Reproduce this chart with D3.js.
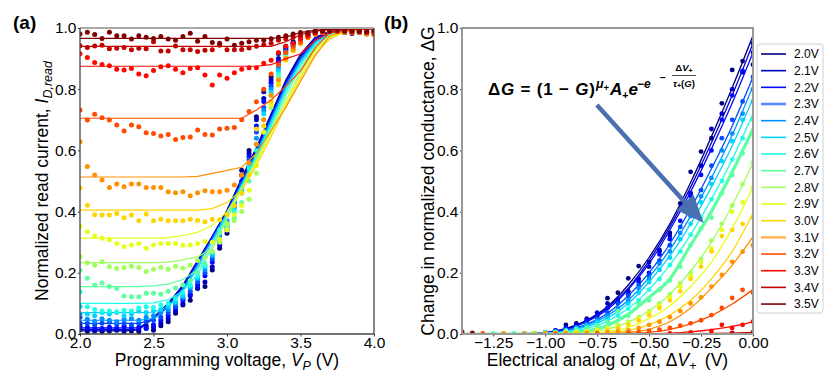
<!DOCTYPE html>
<html><head><meta charset="utf-8">
<script src="https://cdn.jsdelivr.net/npm/d3@7"></script>
<style>
body{margin:0;background:#fff}
text{font-family:"Liberation Sans",Arial,sans-serif;fill:#000}
</style>
</head><body>
<svg id="c" width="830" height="375"></svg>
<script>
// ---------- series ----------
const seriesLabels = ["2.0V","2.1V","2.2V","2.3V","2.4V","2.5V","2.6V","2.7V","2.8V","2.9V","3.0V","3.1V","3.2V","3.3V","3.4V","3.5V"];
const seriesColors = ["#000080","#0000c4","#0008ff","#004cff","#0090ff","#00d4ff","#1affe6","#5dffa1","#a1ff5d","#e6ff1a","#ffd400","#ff9000","#ff4c00","#ff0800","#c40000","#800000"];

// ---------- panel (a) ----------
const aTicksX = [2.0,2.5,3.0,3.5,4.0];
const aTicksY = [0.0,0.2,0.4,0.6,0.8,1.0];
const aDotX = [2.00,2.05,2.10,2.15,2.20,2.25,2.30,2.35,2.40,2.45,2.50,2.55,2.60,2.65,2.70,2.75,2.80,2.85,2.90,2.95,3.00,3.05,3.10,3.15,3.20,3.25,3.30,3.35,3.40,3.45,3.50,3.55,3.60,3.65,3.70,3.75,3.80,3.85,3.90,3.95,4.00];
const aDots = [
 [0.015,0.008,0.010,0.008,0.010,0.012,0.008,0.010,0.008,0.027,0.012,0.027,0.040,0.068,0.095,0.110,0.149,0.155,0.209,0.280,0.329,0.416,0.535,0.600,0.710,0.792,0.841,0.917,0.940,0.955,0.970,0.980,0.985,0.988,0.985,0.990,0.985,0.982,0.985,0.980,0.984],
 [0.025,0.015,0.012,0.015,0.018,0.015,0.012,0.016,0.014,0.018,0.022,0.035,0.050,0.075,0.100,0.125,0.150,0.170,0.220,0.290,0.340,0.420,0.520,0.590,0.700,0.770,0.830,0.900,0.935,0.950,0.965,0.975,0.985,0.990,0.988,0.990,0.985,0.990,0.988,0.985,0.990],
 [0.035,0.022,0.020,0.018,0.022,0.020,0.025,0.020,0.022,0.020,0.030,0.045,0.060,0.085,0.110,0.130,0.160,0.190,0.235,0.300,0.350,0.420,0.500,0.580,0.680,0.760,0.820,0.890,0.930,0.950,0.965,0.978,0.985,0.990,0.990,0.988,0.990,0.990,0.985,0.990,0.988],
 [0.055,0.035,0.030,0.035,0.038,0.032,0.035,0.030,0.035,0.040,0.045,0.055,0.070,0.090,0.115,0.140,0.170,0.200,0.245,0.310,0.360,0.430,0.490,0.570,0.660,0.740,0.810,0.880,0.925,0.945,0.960,0.975,0.985,0.990,0.988,0.990,0.990,0.988,0.990,0.985,0.990],
 [0.065,0.048,0.042,0.050,0.045,0.040,0.048,0.050,0.045,0.055,0.060,0.070,0.080,0.100,0.120,0.150,0.180,0.210,0.255,0.320,0.370,0.420,0.480,0.560,0.640,0.730,0.800,0.870,0.920,0.945,0.960,0.975,0.985,0.990,0.990,0.988,0.990,0.990,0.988,0.990,0.990],
 [0.090,0.065,0.060,0.070,0.065,0.070,0.060,0.065,0.075,0.070,0.075,0.080,0.090,0.105,0.125,0.155,0.185,0.220,0.260,0.330,0.360,0.410,0.470,0.550,0.620,0.720,0.790,0.860,0.915,0.940,0.960,0.975,0.985,0.990,0.990,0.990,0.988,0.990,0.990,0.988,0.990],
 [0.138,0.089,0.080,0.075,0.075,0.073,0.078,0.075,0.085,0.089,0.087,0.095,0.100,0.115,0.135,0.160,0.190,0.225,0.270,0.340,0.360,0.400,0.460,0.540,0.600,0.700,0.780,0.850,0.910,0.940,0.955,0.970,0.985,0.990,0.990,0.990,0.990,0.988,0.990,0.990,0.990],
 [0.208,0.182,0.160,0.167,0.155,0.149,0.124,0.122,0.122,0.133,0.133,0.130,0.140,0.150,0.160,0.175,0.200,0.230,0.270,0.330,0.350,0.380,0.430,0.500,0.580,0.680,0.760,0.840,0.905,0.935,0.955,0.970,0.982,0.988,0.990,0.990,0.990,0.990,0.988,0.990,0.990],
 [0.253,0.233,0.225,0.236,0.220,0.214,0.217,0.221,0.217,0.204,0.212,0.217,0.212,0.221,0.215,0.225,0.240,0.250,0.270,0.300,0.360,0.370,0.400,0.440,0.525,0.660,0.740,0.830,0.900,0.930,0.950,0.970,0.980,0.988,0.990,0.990,0.990,0.990,0.990,0.988,0.990],
 [0.351,0.334,0.320,0.313,0.308,0.296,0.285,0.291,0.296,0.280,0.291,0.296,0.296,0.296,0.290,0.291,0.296,0.302,0.300,0.310,0.340,0.390,0.420,0.470,0.550,0.660,0.750,0.820,0.900,0.930,0.950,0.970,0.980,0.988,0.990,0.990,0.990,0.990,0.990,0.990,0.985],
 [0.477,0.421,0.390,0.389,0.389,0.394,0.380,0.389,0.370,0.392,0.370,0.375,0.370,0.370,0.370,0.375,0.371,0.367,0.375,0.373,0.390,0.420,0.460,0.520,0.670,0.680,0.760,0.814,0.895,0.925,0.950,0.970,0.980,0.985,0.990,0.990,0.990,0.985,0.990,0.985,0.980],
 [0.628,0.547,0.520,0.503,0.479,0.490,0.481,0.490,0.490,0.479,0.479,0.479,0.465,0.462,0.465,0.452,0.462,0.468,0.465,0.465,0.470,0.487,0.520,0.560,0.620,0.700,0.780,0.830,0.900,0.930,0.950,0.970,0.980,0.985,0.990,0.990,0.985,0.990,0.985,0.980,0.978],
 [0.732,0.699,0.718,0.707,0.699,0.683,0.663,0.683,0.677,0.658,0.655,0.647,0.652,0.636,0.642,0.644,0.667,0.652,0.650,0.670,0.672,0.675,0.700,0.727,0.759,0.800,0.850,0.880,0.920,0.940,0.955,0.970,0.980,0.985,0.990,0.990,0.990,0.985,0.990,0.985,0.980],
 [0.916,0.904,0.887,0.881,0.877,0.865,0.863,0.868,0.850,0.844,0.861,0.873,0.877,0.865,0.854,0.868,0.870,0.846,0.814,0.846,0.836,0.854,0.865,0.870,0.870,0.885,0.895,0.920,0.940,0.950,0.965,0.975,0.985,0.990,0.990,0.990,0.990,0.988,0.990,0.985,0.985],
 [0.942,0.936,0.941,0.944,0.932,0.934,0.936,0.929,0.934,0.932,0.955,0.925,0.925,0.941,0.929,0.929,0.923,0.927,0.929,0.944,0.929,0.929,0.930,0.935,0.940,0.945,0.950,0.960,0.965,0.970,0.975,0.980,0.985,0.990,0.990,0.990,0.990,0.990,0.988,0.990,0.990],
 [0.980,0.986,0.979,0.966,0.986,0.975,0.975,0.964,0.975,0.970,0.966,0.972,0.964,0.960,0.972,0.983,0.957,0.972,0.953,0.950,0.964,0.944,0.950,0.955,0.960,0.960,0.965,0.970,0.975,0.980,0.985,0.985,0.990,0.990,0.990,0.995,0.990,0.990,0.990,0.988,0.990]
];
const aLineX = [2.0,2.1,2.2,2.3,2.4,2.5,2.6,2.7,2.8,2.9,3.0,3.1,3.2,3.3,3.4,3.5,3.6,3.7,3.8,3.9,4.0];
const aLines = [
 [0.010,0.010,0.010,0.010,0.013,0.055,0.100,0.160,0.240,0.320,0.405,0.510,0.610,0.720,0.830,0.915,0.970,0.990,0.995,0.997,0.998],
 [0.015,0.015,0.015,0.015,0.016,0.052,0.098,0.158,0.237,0.318,0.403,0.505,0.605,0.715,0.825,0.910,0.967,0.988,0.995,0.997,0.998],
 [0.020,0.020,0.020,0.020,0.020,0.050,0.095,0.155,0.235,0.316,0.400,0.500,0.600,0.710,0.820,0.905,0.963,0.987,0.995,0.997,0.998],
 [0.035,0.035,0.035,0.035,0.035,0.048,0.090,0.150,0.230,0.312,0.398,0.495,0.595,0.705,0.815,0.900,0.960,0.986,0.994,0.997,0.998],
 [0.045,0.045,0.045,0.045,0.045,0.050,0.088,0.145,0.225,0.310,0.396,0.490,0.590,0.700,0.810,0.895,0.955,0.985,0.994,0.997,0.998],
 [0.070,0.070,0.070,0.070,0.070,0.071,0.090,0.140,0.215,0.300,0.394,0.487,0.585,0.690,0.800,0.888,0.950,0.983,0.993,0.997,0.998],
 [0.100,0.100,0.100,0.100,0.100,0.102,0.112,0.140,0.195,0.285,0.392,0.484,0.580,0.683,0.790,0.880,0.945,0.980,0.993,0.997,0.998],
 [0.155,0.155,0.155,0.155,0.155,0.157,0.163,0.178,0.210,0.280,0.385,0.480,0.575,0.675,0.780,0.870,0.940,0.978,0.992,0.996,0.998],
 [0.233,0.233,0.233,0.233,0.233,0.233,0.235,0.242,0.252,0.280,0.375,0.475,0.568,0.665,0.765,0.855,0.930,0.972,0.990,0.996,0.998],
 [0.313,0.313,0.313,0.313,0.313,0.313,0.315,0.322,0.332,0.355,0.400,0.470,0.560,0.655,0.755,0.845,0.925,0.970,0.988,0.995,0.998],
 [0.405,0.405,0.405,0.405,0.405,0.405,0.405,0.405,0.405,0.410,0.430,0.470,0.550,0.645,0.745,0.835,0.915,0.965,0.987,0.995,0.998],
 [0.513,0.513,0.513,0.513,0.513,0.513,0.513,0.513,0.515,0.525,0.535,0.545,0.590,0.665,0.740,0.825,0.910,0.975,0.990,0.995,0.998],
 [0.705,0.705,0.705,0.705,0.705,0.705,0.705,0.705,0.705,0.705,0.705,0.705,0.732,0.765,0.810,0.860,0.935,0.985,0.995,0.997,0.998],
 [0.875,0.875,0.875,0.875,0.875,0.875,0.875,0.875,0.875,0.875,0.875,0.875,0.875,0.880,0.900,0.915,0.960,0.985,0.993,0.996,0.998],
 [0.940,0.940,0.940,0.940,0.940,0.940,0.940,0.940,0.940,0.940,0.940,0.940,0.940,0.940,0.955,0.978,0.990,0.995,0.997,0.998,0.998],
 [0.966,0.966,0.966,0.966,0.966,0.966,0.966,0.966,0.966,0.966,0.966,0.966,0.966,0.966,0.970,0.985,0.993,0.996,0.997,0.998,0.998]
];

// ---------- panel (b) ----------
const bTicksX = [-1.25,-1.00,-0.75,-0.50,-0.25,0.00];
const bTicksY = [0.0,0.2,0.4,0.6,0.8,1.0];
const bDotX = [-1.40,-1.35,-1.30,-1.25,-1.20,-1.15,-1.10,-1.05,-1.00,-0.95,-0.90,-0.85,-0.80,-0.75,-0.70,-0.65,-0.60,-0.55,-0.50,-0.45,-0.40,-0.35,-0.30,-0.25,-0.20,-0.15,-0.10,-0.05,0.00];
const N = null;
const bDots = [
 [N,N,N,N,N,N,N,N,0.005,0.010,0.030,0.035,0.050,0.060,0.117,0.135,0.182,0.222,0.235,0.275,0.330,0.427,0.530,0.596,0.640,0.754,0.863,0.892,0.880],
 [N,N,N,N,N,N,N,N,0.004,0.012,0.020,0.030,0.040,0.070,0.100,0.105,0.140,0.180,0.220,0.270,0.320,0.410,0.460,0.550,0.670,0.720,0.800,0.855,0.950],
 [N,N,N,N,N,N,N,N,0.003,0.010,0.020,0.025,0.045,0.060,0.085,0.115,0.130,0.170,0.200,0.260,0.310,0.370,0.450,0.520,0.600,0.700,0.780,0.860,0.920],
 [N,N,N,N,N,N,N,N,N,0.006,0.015,0.022,0.035,0.050,0.070,0.100,0.125,0.160,0.190,0.240,0.290,0.350,0.400,0.470,0.550,0.640,0.700,0.760,0.840],
 [N,N,N,N,N,N,N,N,N,N,0.010,0.020,0.030,0.045,0.060,0.085,0.110,0.150,0.180,0.230,0.270,0.330,0.385,0.450,0.510,0.600,0.655,0.720,0.800],
 [N,N,N,N,N,0.001,0.002,0.003,0.005,0.008,0.012,0.018,0.027,0.040,0.050,0.075,0.100,0.135,0.170,0.210,0.250,0.310,0.360,0.430,0.490,0.565,0.630,0.700,0.760],
 [N,N,N,N,N,N,0.001,0.002,0.004,0.006,0.010,0.015,0.020,0.030,0.040,0.060,0.083,0.110,0.145,0.180,0.225,0.270,0.325,0.380,0.440,0.500,0.570,0.640,0.700],
 [N,N,N,0.002,0.001,0.002,0.002,0.003,0.004,0.006,0.010,0.014,0.020,0.028,0.040,0.075,0.060,0.100,0.110,0.145,0.175,0.220,0.290,0.345,0.380,0.460,0.520,0.590,0.660],
 [N,N,N,N,N,N,N,N,0.002,0.003,0.005,0.008,0.010,0.015,0.020,0.030,0.040,0.055,0.075,0.100,0.130,0.165,0.200,0.245,0.305,0.360,0.420,0.490,0.560],
 [N,N,N,N,N,N,N,N,0.002,0.003,0.004,0.006,0.008,0.012,0.018,0.025,0.035,0.050,0.070,0.092,0.120,0.155,0.190,0.235,0.280,0.340,0.400,0.430,0.480],
 [N,N,N,N,N,N,N,0.001,0.001,0.002,0.003,0.004,0.006,0.008,0.012,0.020,0.030,0.045,0.062,0.085,0.110,0.140,0.180,0.220,0.270,0.320,0.340,0.360,0.380],
 [N,N,N,N,0.002,N,0.001,N,0.001,N,0.002,N,0.003,N,0.005,0.008,0.012,0.020,0.030,0.040,0.055,0.075,0.100,0.120,0.155,0.193,0.236,0.269,0.290],
 [N,N,0.002,N,N,N,N,N,N,0.001,N,N,N,0.002,N,N,0.004,0.006,0.010,0.014,0.020,0.027,0.035,0.045,0.062,0.085,0.118,0.144,0.135],
 [0.005,N,N,N,N,N,N,N,N,N,N,N,N,N,N,N,N,N,N,N,0.002,N,0.005,N,0.010,0.030,0.020,0.030,0.040],
 [0.008,N,N,N,N,N,N,N,N,N,N,N,N,N,N,N,N,N,N,N,N,N,N,N,N,N,0.004,N,0.006],
 [N,0.004,N,N,N,N,N,N,N,N,N,N,N,N,N,N,N,N,N,N,N,N,N,N,N,N,N,N,0.001]
];
const bCurveX = [-1.4,-1.3,-1.2,-1.1,-1.0,-0.9,-0.8,-0.7,-0.6,-0.5,-0.4,-0.3,-0.2,-0.1,0.0];
const bCurves = [
 [0,0,0,0.001,0.005,0.018,0.045,0.090,0.160,0.250,0.360,0.495,0.645,0.805,0.975],
 [0,0,0,0.001,0.004,0.016,0.042,0.085,0.150,0.240,0.350,0.480,0.625,0.780,0.950],
 [0,0,0,0.001,0.004,0.015,0.040,0.080,0.145,0.230,0.340,0.465,0.605,0.755,0.920],
 [0,0,0,0.001,0.003,0.012,0.032,0.068,0.125,0.200,0.295,0.410,0.540,0.680,0.840],
 [0,0,0,0,0.002,0.010,0.028,0.060,0.110,0.185,0.275,0.385,0.510,0.650,0.810],
 [0,0,0,0,0.002,0.008,0.024,0.052,0.100,0.170,0.255,0.360,0.480,0.615,0.770],
 [0,0,0,0,0.001,0.006,0.018,0.042,0.083,0.145,0.225,0.325,0.440,0.570,0.720],
 [0,0,0,0,0,0.003,0.010,0.028,0.065,0.120,0.180,0.290,0.400,0.530,0.670],
 [0,0,0,0,0,0.001,0.005,0.016,0.038,0.075,0.130,0.205,0.300,0.420,0.560],
 [0,0,0,0,0,0,0.002,0.008,0.022,0.050,0.092,0.155,0.235,0.345,0.480],
 [0,0,0,0,0,0,0.001,0.004,0.012,0.030,0.062,0.110,0.180,0.270,0.395],
 [0,0,0,0,0,0,0,0.001,0.005,0.015,0.040,0.085,0.150,0.225,0.318],
 [0,0,0,0,0,0,0,0,0.001,0.005,0.015,0.033,0.060,0.098,0.145],
 [0,0,0,0,0,0,0,0,0,0.001,0.003,0.007,0.014,0.025,0.040],
 [0,0,0,0,0,0,0,0,0,0,0,0.001,0.002,0.003,0.005],
 [0,0,0,0,0,0,0,0,0,0,0,0,0,0,0.001]
];
const bThickSeries = "2.7V";

// ---------- drawing ----------
const svg = d3.select("#c");
svg.append("rect").attr("width",830).attr("height",375).attr("fill","#fff");

const xA = d3.scaleLinear().domain([2,4]).range([80,374]);
const yA = d3.scaleLinear().domain([0,1]).range([334,28]);
const xB = d3.scaleLinear().domain([-1.4,0]).range([462,753]);
const yB = d3.scaleLinear().domain([0,1]).range([334,28]);

const defs = svg.append("defs");
defs.append("clipPath").attr("id","clipA").append("rect")
  .attr("x",xA(2)).attr("y",yA(1)).attr("width",xA(4)-xA(2)).attr("height",yA(0)-yA(1));
defs.append("clipPath").attr("id","clipB").append("rect")
  .attr("x",xB(-1.4)).attr("y",yB(1)).attr("width",xB(0)-xB(-1.4)).attr("height",yB(0)-yB(1));

// Panel (a) marks
const gA = svg.append("g").attr("clip-path","url(#clipA)");
const lineA = d3.line().x((d,i)=>xA(aLineX[i])).y(d=>yA(d));
seriesLabels.forEach((lab,s)=>{
  gA.append("g").selectAll("circle").data(aDots[s]).join("circle")
    .attr("cx",(d,i)=>xA(aDotX[i])).attr("cy",d=>yA(d)).attr("r",2.5)
    .attr("fill",seriesColors[s]);
  gA.append("path").datum(aLines[s]).attr("d",lineA)
    .attr("fill","none").attr("stroke",seriesColors[s]).attr("stroke-width",1.2);
});

// Panel (b) marks
const gB = svg.append("g").attr("clip-path","url(#clipB)");
const lineB = d3.line().x((d,i)=>xB(bCurveX[i])).y(d=>yB(d)).curve(d3.curveMonotoneX);
seriesLabels.forEach((lab,s)=>{
  const pts = bDots[s].map((v,i)=>({x:bDotX[i],v})).filter(p=>p.v!==null);
  gB.append("g").selectAll("circle").data(pts).join("circle")
    .attr("cx",p=>xB(p.x)).attr("cy",p=>yB(p.v)).attr("r",2.4)
    .attr("fill",seriesColors[s]);
  gB.append("path").datum(bCurves[s]).attr("d",lineB)
    .attr("fill","none").attr("stroke",seriesColors[s])
    .attr("stroke-width", lab===bThickSeries ? 3.2 : 1.3);
});

// Axes
function styleAxis(g){
  g.select(".domain").remove();
  g.selectAll(".tick line").attr("stroke","#333");
  g.selectAll(".tick text").attr("font-size",15.5).attr("font-family","Liberation Sans, Arial, sans-serif").attr("fill","#000");
}
const fmt1 = d3.format(".1f"), fmt2 = d3.format(".2f");
svg.append("g").attr("transform",`translate(0,${yA(0)})`)
  .call(d3.axisBottom(xA).tickValues(aTicksX).tickFormat(fmt1).tickSize(2.5).tickPadding(0.5)).call(styleAxis);
svg.append("g").attr("transform",`translate(${xA(2)},0)`)
  .call(d3.axisLeft(yA).tickValues(aTicksY).tickFormat(fmt1).tickSize(2).tickPadding(1.5)).call(styleAxis);
svg.append("g").attr("transform",`translate(0,${yB(0)})`)
  .call(d3.axisBottom(xB).tickValues(bTicksX).tickFormat(fmt2).tickSize(2.5).tickPadding(0.5)).call(styleAxis);
svg.append("g").attr("transform",`translate(${xB(-1.4)},0)`)
  .call(d3.axisLeft(yB).tickValues(bTicksY).tickFormat(fmt1).tickSize(2).tickPadding(1.5)).call(styleAxis);

// Spines
const spA = svg.append("g").attr("fill","none");
spA.append("line").attr("x1",xA(2)).attr("x2",xA(4)).attr("y1",yA(1)).attr("y2",yA(1)).attr("stroke","#aaa").attr("stroke-width",2);
spA.append("line").attr("x1",xA(2)).attr("x2",xA(2)).attr("y1",yA(1)).attr("y2",yA(0)).attr("stroke","#444").attr("stroke-width",1.3);
spA.append("line").attr("x1",xA(4)).attr("x2",xA(4)).attr("y1",yA(1)).attr("y2",yA(0)).attr("stroke","#444").attr("stroke-width",1.3);
spA.append("line").attr("x1",xA(2)).attr("x2",xA(4)).attr("y1",yA(0)).attr("y2",yA(0)).attr("stroke","#444").attr("stroke-width",1.3);
svg.append("rect").attr("x",xB(-1.4)).attr("y",yB(1)).attr("width",xB(0)-xB(-1.4)).attr("height",yB(0)-yB(1))
  .attr("fill","none").attr("stroke","#999").attr("stroke-width",2);

// Axis labels
function sub(t, txt, opts={}){
  t.append("tspan").attr("dy",4).attr("font-size",12.5).attr("font-style",opts.italic?"italic":null).text(txt);
}
const xlabA = svg.append("text").attr("x",(xA(2)+xA(4))/2).attr("y",366).attr("text-anchor","middle").attr("font-size",17.5);
xlabA.append("tspan").text("Programming voltage, ");
xlabA.append("tspan").attr("font-style","italic").text("V");
sub(xlabA,"P",{italic:true});
xlabA.append("tspan").attr("dy",-4).text(" (V)");

const ylabA = svg.append("text").attr("transform",`translate(48,${(yA(0)+yA(1))/2}) rotate(-90)`).attr("text-anchor","middle").attr("font-size",17.5);
ylabA.append("tspan").text("Normalized read current, ");
ylabA.append("tspan").attr("font-style","italic").text("I");
sub(ylabA,"D,read",{italic:true});

const xlabB = svg.append("text").attr("x",(xB(-1.4)+xB(0))/2).attr("y",366).attr("text-anchor","middle").attr("font-size",17.5);
xlabB.append("tspan").text("Electrical analog of Δ");
xlabB.append("tspan").attr("font-style","italic").text("t");
xlabB.append("tspan").text(", Δ");
xlabB.append("tspan").attr("font-style","italic").text("V");
sub(xlabB,"+");
xlabB.append("tspan").attr("dy",-4).text("\u2009 (V)");

svg.append("text").attr("transform",`translate(434,${(yB(0)+yB(1))/2}) rotate(-90)`).attr("text-anchor","middle").attr("font-size",17.5)
  .text("Change in normalized conductance, ΔG");

// Panel letters
svg.append("text").attr("x",13).attr("y",29).attr("font-family","DejaVu Sans, sans-serif").attr("font-weight","bold").attr("font-size",19).text("(a)");
svg.append("text").attr("x",384).attr("y",29).attr("font-family","DejaVu Sans, sans-serif").attr("font-weight","bold").attr("font-size",19).text("(b)");

// Formula annotation
const fx = xB(-1.275), fy = yB(0.781);
const fg = svg.append("g").attr("font-weight","bold");
const serif = "Liberation Serif, DejaVu Serif, serif";
const t1 = fg.append("text").attr("x",fx).attr("y",fy).attr("font-size",17).attr("font-family",serif)
  .attr("textLength",107).attr("lengthAdjust","spacing");
t1.append("tspan").text("Δ");
t1.append("tspan").attr("font-style","italic").text("G");
t1.append("tspan").text(" = (1 − ");
t1.append("tspan").attr("font-style","italic").text("G");
t1.append("tspan").text(")");
const t2 = fg.append("text").attr("x",fx+108).attr("y",fy-7).attr("font-size",12.5).attr("font-family",serif);
t2.append("tspan").attr("font-style","italic").text("μ");
t2.append("tspan").attr("dy",3).attr("font-size",9.5).text("+");
const t3 = fg.append("text").attr("x",fx+122).attr("y",fy).attr("font-size",17).attr("font-family",serif);
t3.append("tspan").attr("font-style","italic").text("A");
t3.append("tspan").attr("dy",4).attr("font-size",10.5).text("+");
t3.append("tspan").attr("dy",-4).attr("font-style","italic").text("e");
const t4 = fg.append("text").attr("x",fx+149).attr("y",fy-7).attr("font-size",12).attr("font-family",serif);
t4.append("tspan").text("−");
t4.append("tspan").attr("font-style","italic").text("e");
fg.append("text").attr("x",fx+172).attr("y",fy-14).attr("font-size",10).attr("font-family",serif).text("−");
const fr = fx+196;
const t5 = fg.append("text").attr("x",fr).attr("y",fy-24).attr("font-size",9.5).attr("font-family",serif).attr("text-anchor","middle");
t5.append("tspan").text("Δ");
t5.append("tspan").attr("font-style","italic").text("V");
t5.append("tspan").attr("dy",1.5).attr("font-size",7).text("+");
fg.append("line").attr("x1",fr-12).attr("x2",fr+12).attr("y1",fy-19.5).attr("y2",fy-19.5).attr("stroke","#000").attr("stroke-width",0.7);
const t6 = fg.append("text").attr("x",fr).attr("y",fy-8.5).attr("font-size",9.5).attr("font-family",serif).attr("text-anchor","middle");
t6.append("tspan").attr("font-style","italic").text("τ");
t6.append("tspan").attr("dy",1.5).attr("font-size",7).text("+");
t6.append("tspan").attr("dy",-1.5).text("(");
t6.append("tspan").attr("font-style","italic").text("G");
t6.append("tspan").text(")");

// Arrow
const aS = [xB(-0.751), yB(0.748)], aT = [xB(-0.237), yB(0.363)];
const dx = aT[0]-aS[0], dy = aT[1]-aS[1], L = Math.hypot(dx,dy), ux = dx/L, uy = dy/L;
const headLen = 28, headW = 11.5;
const bx = aT[0]-headLen*ux, by = aT[1]-headLen*uy;
svg.append("line").attr("x1",aS[0]).attr("y1",aS[1]).attr("x2",bx+2*ux).attr("y2",by+2*uy)
  .attr("stroke","#4a6fb0").attr("stroke-width",4.5);
svg.append("polygon").attr("points",[[aT[0],aT[1]],[bx-headW*uy,by+headW*ux],[bx+headW*uy,by-headW*ux]].map(p=>p.join(",")).join(" "))
  .attr("fill","#4a6fb0");

// Legend
const lg = svg.append("g");
lg.append("rect").attr("x",757).attr("y",44).attr("width",66).attr("height",269).attr("rx",3)
  .attr("fill","#fff").attr("stroke","#d0d0d0").attr("stroke-width",1);
seriesLabels.forEach((lab,i)=>{
  const y = 54 + i*16.67;
  const thick = (lab==="2.3V"||lab==="3.1V");
  lg.append("line").attr("x1",761).attr("x2",786).attr("y1",y).attr("y2",y)
    .attr("stroke",seriesColors[i]).attr("stroke-width",thick?2.6:1.6).attr("stroke-opacity",thick?0.65:1);
  lg.append("text").attr("x",794).attr("y",y+4.3).attr("font-size",12).text(lab);
});
</script>
</body></html>
